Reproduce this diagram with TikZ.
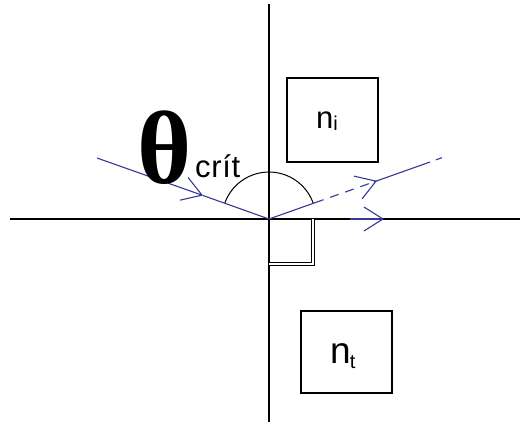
\documentclass[tikz,border=0pt]{standalone}
\usepackage{fontspec}
\setmainfont{Liberation Serif}
\newfontfamily\arialf{Liberation Sans}
\usetikzlibrary{arrows.meta,calc}
\definecolor{rayblue}{RGB}{55,55,150}
\tikzset{
  axis/.style={line width=1.3pt, black},
  ray/.style={line width=1.1pt, rayblue},
  chev/.style={-{Straight Barb[length=19pt,width=24pt,line width=1.1pt]}},
  box/.style={draw, line width=1.3pt, inner sep=0pt},
  lab/.style={inner sep=0pt, font=\arialf},
}
\begin{document}
\begin{tikzpicture}[x=1pt,y=-1pt]
\useasboundingbox (0,0) rectangle (520,432);
% coordinates
\coordinate (O) at (269,219);
\coordinate (vtop) at (269,4);
\coordinate (vbot) at (269,422);
\coordinate (hl) at (10,219);
\coordinate (hr) at (520,219);
\coordinate (inS) at (97,158);
\coordinate (inT) at (203,195.5);
\coordinate (rA) at (315,202.7);
\coordinate (rT) at (377,180.8);
\coordinate (rB) at (430,162.0);
\coordinate (rC) at (436,159.8);
\coordinate (rD) at (442,157.7);
\coordinate (sA) at (350,219);
\coordinate (sT) at (384,219);
% axes
\draw[axis] (vtop) -- (vbot);
\draw[axis] (hl) -- (hr);
% boxes
\node[box, minimum width=91pt, minimum height=84pt] (bi) at (332.5,120) {};
\node[box, minimum width=91pt, minimum height=82pt] (bt) at (346.5,352) {};
\node[lab, anchor=base west] (ni) at (316,128) {\fontsize{31}{31}\selectfont n\raisebox{-2pt}{\fontsize{20}{20}\selectfont i}};
\node[lab, anchor=base west] (nt) at (330,363) {\fontsize{37}{37}\selectfont n\kern-1pt\raisebox{-5pt}{\fontsize{20}{20}\selectfont t}};
% angle arc
\draw[line width=1pt] (O) ++(-160.5:47) arc[start angle=-160.5, end angle=-19.5, radius=47];
% right angle mark
\coordinate (q1) at (269,264);
\coordinate (q2) at (313,264);
\coordinate (q3) at (313,219);
\draw[line width=0.9pt, double, double distance=2.6pt] (q1) -- (q2) -- (q3);
% incident ray
\draw[ray, chev] (inS) -- (inT);
\draw[ray] (inT) -- (O);
% reflected ray
\draw[ray] (O) -- (rA);
\draw[ray, dash pattern=on 9pt off 7pt] (rA) -- (rT);
\draw[ray, chev] ($(rA)!0.95!(rT)$) -- (rT);
\draw[ray] (rT) -- (rB);
\draw[ray] (rC) -- (rD);
% grazing refracted ray
\draw[ray, chev] (sA) -- (sT);
% labels
\node[inner sep=0pt, anchor=center] (th) at (165,148) {\fontsize{104}{104}\selectfont\bfseries θ};
\node[lab, anchor=base west] (crit) at (195,177) {\fontsize{31}{31}\selectfont\addfontfeature{LetterSpace=2}crít};
\end{tikzpicture}
\end{document}
